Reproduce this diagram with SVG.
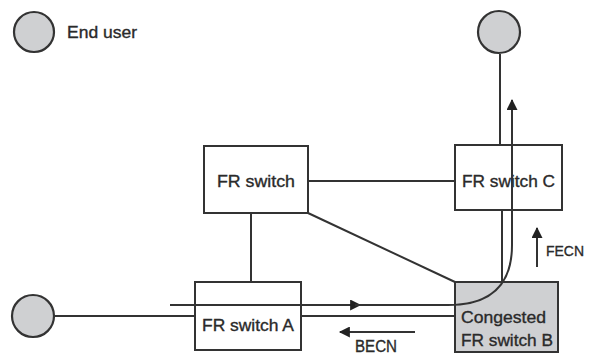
<svg xmlns="http://www.w3.org/2000/svg" width="590" height="356" viewBox="0 0 590 356">
<style>
.user{fill:#cfd0d2;stroke:#333;stroke-width:2.2}
.box{fill:#fff;stroke:#333;stroke-width:2}
.gbox{fill:#cfd0d2;stroke:#333;stroke-width:2}
.ln{stroke:#333;stroke-width:2;fill:none}
.t{font-family:"Liberation Sans",Arial,sans-serif;font-size:17px;fill:#2a2a2a;stroke:#2a2a2a;stroke-width:0.35}
</style>
<defs>
<marker id="ah" viewBox="0 0 10 10" refX="9" refY="5" markerWidth="7" markerHeight="5.5" orient="auto" markerUnits="strokeWidth">
<path d="M0,0 L10,5 L0,10 z" fill="#222"/>
</marker>
</defs>
<rect width="590" height="356" fill="#fff"/>
<g id="connectors">
<line class="ln" x1="55" y1="316" x2="455" y2="316"/>
<line class="ln" x1="500" y1="54" x2="500" y2="145"/>
<line class="ln" x1="308" y1="181" x2="455" y2="181"/>
<line class="ln" x1="251" y1="213" x2="251" y2="282"/>
<line class="ln" x1="308" y1="213" x2="455" y2="282"/>
<line class="ln" x1="502" y1="210" x2="502" y2="282"/>
</g>
<g id="end-user-legend">
<circle class="user" cx="34" cy="32" r="20"/>
<text class="t" x="67" y="38" textLength="70" lengthAdjust="spacingAndGlyphs">End user</text>
</g>
<g id="user-top">
<circle class="user" cx="499" cy="32" r="21"/>
</g>
<g id="user-left">
<circle class="user" cx="33" cy="316" r="21"/>
</g>
<g id="fr-switch">
<rect class="box" x="204" y="146" width="104" height="67"/>
<text class="t" x="217" y="187" textLength="78" lengthAdjust="spacingAndGlyphs">FR switch</text>
</g>
<g id="fr-switch-c">
<rect class="box" x="455" y="145" width="107" height="65"/>
<text class="t" x="462" y="187" textLength="93" lengthAdjust="spacingAndGlyphs">FR switch C</text>
</g>
<g id="fr-switch-a">
<rect class="box" x="195" y="282" width="106" height="68"/>
<text class="t" x="202" y="331" textLength="92" lengthAdjust="spacingAndGlyphs">FR switch A</text>
</g>
<g id="fr-switch-b">
<rect class="gbox" x="455" y="282" width="103" height="70"/>
<text class="t" x="461" y="323" textLength="85" lengthAdjust="spacingAndGlyphs">Congested</text>
<text class="t" x="461" y="346" textLength="92" lengthAdjust="spacingAndGlyphs">FR switch B</text>
</g>
<g id="flow">
<path class="ln" d="M170,305 H360" marker-end="url(#ah)"/>
<path class="ln" d="M355,305 H448 Q512,305 512,245 V100" marker-end="url(#ah)"/>
<path class="ln" d="M537,267 V228" marker-end="url(#ah)"/>
<text class="t" x="546" y="256" style="font-size:15px" textLength="38" lengthAdjust="spacingAndGlyphs">FECN</text>
<path class="ln" d="M415,332 H340" marker-end="url(#ah)"/>
<text class="t" x="355" y="352" textLength="42" lengthAdjust="spacingAndGlyphs">BECN</text>
</g>
</svg>
